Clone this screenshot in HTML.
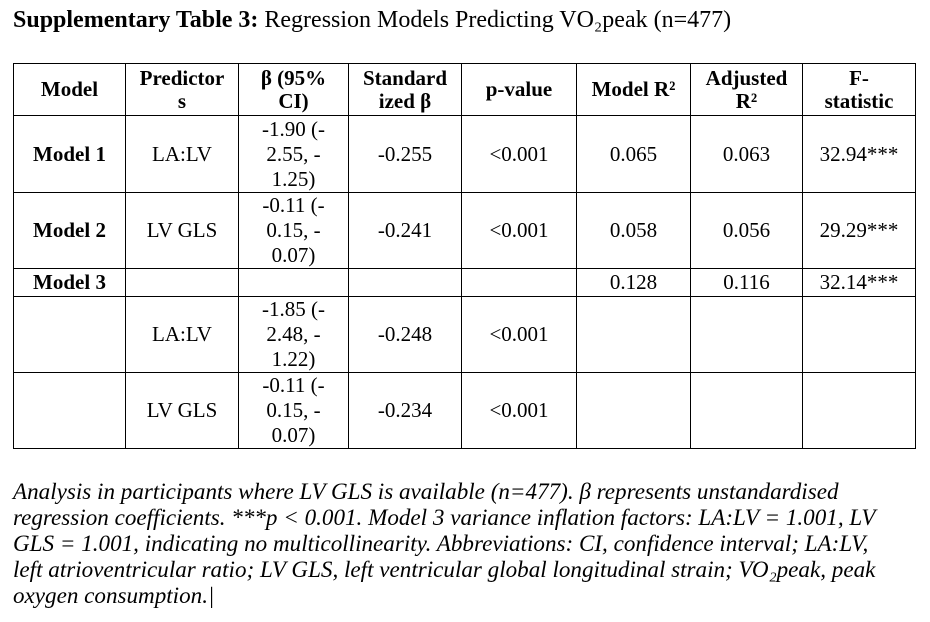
<!DOCTYPE html>
<html><head><meta charset="utf-8"><style>
body{margin:0;background:#fff;width:930px;height:622px;overflow:hidden;font-family:"Liberation Serif","Times New Roman",serif;color:#000}
.t{position:absolute;left:13px;top:7px;font-size:24px;font-family:"Liberation Serif",serif}
table{position:absolute;left:13px;top:63px;border-collapse:collapse;table-layout:fixed;font-size:21px;line-height:25px;font-family:"Liberation Serif",serif}
td{border:1.5px solid #000;text-align:center;vertical-align:middle;padding:0 2px;overflow:hidden;font-family:"Liberation Serif",serif;white-space:nowrap}
th{border:1.5px solid #000;font-weight:bold;text-align:center;line-height:23px;padding:0 2px;font-family:"Liberation Serif",serif;white-space:nowrap}
.b{font-weight:bold}
.c{position:absolute;left:13px;top:478px;width:915px;font-size:23.1px;font-style:italic;line-height:26px;font-family:"Liberation Serif",serif;white-space:nowrap}
</style></head><body>
<div class="t"><b>Supplementary Table 3:</b> Regression Models Predicting VO₂peak (n=477)</div>
<table>
<colgroup><col style="width:112px"><col style="width:113px"><col style="width:110px"><col style="width:113px"><col style="width:115px"><col style="width:114px"><col style="width:112px"><col style="width:113px"></colgroup>
<tr style="height:52px"><th>Model</th><th>Predictor<br>s</th><th>β (95%<br>CI)</th><th>Standard<br>ized β</th><th>p-value</th><th>Model R²</th><th>Adjusted<br>R²</th><th>F-<br>statistic</th></tr>
<tr style="height:77px"><td class="b">Model 1</td><td>LA:LV</td><td>-1.90 (-<br>2.55, -<br>1.25)</td><td>-0.255</td><td>&lt;0.001</td><td>0.065</td><td>0.063</td><td>32.94***</td></tr>
<tr style="height:76px"><td class="b">Model 2</td><td>LV GLS</td><td>-0.11 (-<br>0.15, -<br>0.07)</td><td>-0.241</td><td>&lt;0.001</td><td>0.058</td><td>0.056</td><td>29.29***</td></tr>
<tr style="height:28px"><td class="b">Model 3</td><td></td><td></td><td></td><td></td><td>0.128</td><td>0.116</td><td>32.14***</td></tr>
<tr style="height:76px"><td></td><td>LA:LV</td><td>-1.85 (-<br>2.48, -<br>1.22)</td><td>-0.248</td><td>&lt;0.001</td><td></td><td></td><td></td></tr>
<tr style="height:76px"><td></td><td>LV GLS</td><td>-0.11 (-<br>0.15, -<br>0.07)</td><td>-0.234</td><td>&lt;0.001</td><td></td><td></td><td></td></tr>
</table>
<div class="c">Analysis in participants where LV GLS is available (n=477). β represents unstandardised<br>regression coefficients. ***p &lt; 0.001. Model 3 variance inflation factors: LA:LV = 1.001, LV<br>GLS = 1.001, indicating no multicollinearity. Abbreviations: CI, confidence interval; LA:LV,<br>left atrioventricular ratio; LV GLS, left ventricular global longitudinal strain; VO₂peak, peak<br>oxygen consumption.|</div>
</body></html>
